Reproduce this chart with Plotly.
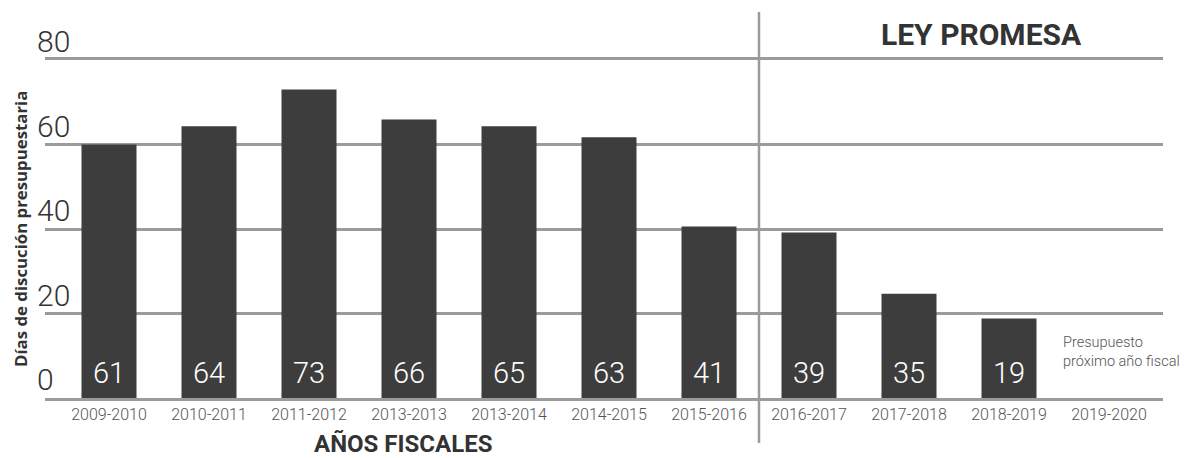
import plotly.graph_objects as go

categories = ["2009-2010", "2010-2011", "2011-2012", "2013-2013", "2013-2014",
              "2014-2015", "2015-2016", "2016-2017", "2017-2018", "2018-2019", "2019-2020"]
bar_heights = [60, 64.3, 73, 65.9, 64.3, 61.7, 40.6, 39.2, 24.7, 18.8, None]
bar_labels = ["61", "64", "73", "66", "65", "63", "41", "39", "35", "19", ""]
y_ticks = [0, 20, 40, 60, 80]
y_tick_labels = ["0", "20", "40", "60", "80"]

FONT = "Roboto"
BAR_COLOR = "#3d3d3d"
GRID = "#9b9b9b"

fig = go.Figure()
fig.add_trace(go.Bar(
    x=categories, y=bar_heights, marker=dict(color=BAR_COLOR, line=dict(width=0)),
    width=0.55, hoverinfo="skip", showlegend=False,
))

annotations = []
# value labels inside bars near the base
for c, lab in zip(categories, bar_labels):
    if lab:
        annotations.append(dict(x=c, y=6, xref="x", yref="y", text=lab, showarrow=False,
                                xanchor="center", yanchor="middle",
                                font=dict(family=FONT, size=29, color="white", weight=300)))
# y tick labels placed above gridlines
for v, t in zip(y_ticks, y_tick_labels):
    annotations.append(dict(x=-0.009, y=v, xref="paper", yref="y", text=t, showarrow=False,
                            xanchor="left", yanchor="bottom", yshift=-1,
                            font=dict(family=FONT, size=30, color="#333333", weight=300)))
# axis titles and notes
annotations += [
    dict(x=-0.0224, y=0.5, xref="paper", yref="paper", text="<b>Días de discución presupuestaria</b>",
         textangle=-90, showarrow=False, xanchor="center", yanchor="middle",
         font=dict(family="Open Sans", size=16.8, color="#333333")),
    dict(x=0.3202, y=-0.136, xref="paper", yref="paper", text="<b>AÑOS FISCALES</b>",
         showarrow=False, xanchor="center", yanchor="middle",
         font=dict(family=FONT, size=24, color="#333333")),
    dict(x=0.8377, y=1.074, xref="paper", yref="paper", text="<b>LEY PROMESA</b>",
         showarrow=False, xanchor="center", yanchor="middle",
         font=dict(family=FONT, size=30, color="#333333")),
    dict(x=0.9088, y=0.136, xref="paper", yref="paper", text="Presupuesto<br>próximo año fiscal",
         showarrow=False, xanchor="left", yanchor="middle", align="left",
         font=dict(family=FONT, size=14.5, color="#555555", weight=300)),
]

fig.add_shape(type="line", xref="x", yref="paper", x0=6.5, x1=6.5, y0=-0.133, y1=1.142,
              line=dict(color=GRID, width=2.5), layer="above")

fig.update_layout(
    width=1187, height=450,
    margin=dict(l=37, r=32, t=52, b=60),
    paper_bgcolor="white", plot_bgcolor="white",
    bargap=0.45,
    annotations=annotations,
    xaxis=dict(type="category", range=[-0.64, 10.54], showgrid=False, zeroline=False,
               showline=True, mirror=True, linecolor=GRID, linewidth=2.5,
               ticks="", ticklabelstandoff=0,
               tickfont=dict(family=FONT, size=16, color="#555555", weight=300),
               fixedrange=True),
    yaxis=dict(range=[0, 80], tickvals=y_ticks, showticklabels=False, showgrid=True,
               gridcolor=GRID, gridwidth=2.5, zeroline=False, showline=False, fixedrange=True),
)

fig.write_html("out.html")
